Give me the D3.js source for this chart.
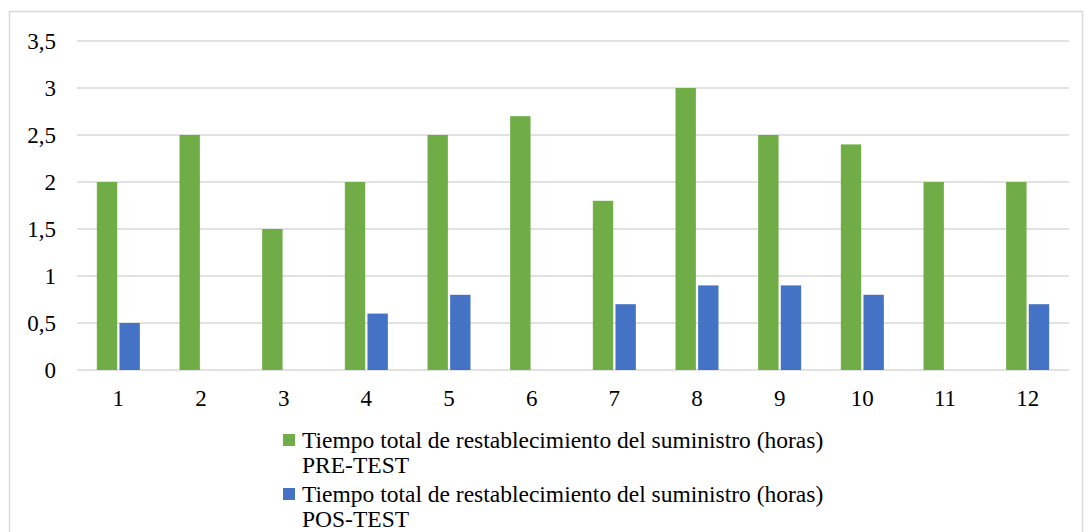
<!DOCTYPE html>
<html>
<head>
<meta charset="utf-8">
<script src="https://cdn.jsdelivr.net/npm/d3@7"></script>
<style>
  body { margin: 0; background: #fff; }
  svg { display: block; font-family: "Times New Roman", "Liberation Serif", serif; }
</style>
</head>
<body>
<svg id="chart" width="1090" height="532"></svg>
<script>
const categories = ['1', '2', '3', '4', '5', '6', '7', '8', '9', '10', '11', '12'];
const preTest = [2, 2.5, 1.5, 2, 2.5, 2.7, 1.8, 3, 2.5, 2.4, 2, 2];
const posTest = [0.5, 0, 0, 0.6, 0.8, 0, 0.7, 0.9, 0.9, 0.8, 0, 0.7];
const yTicks = [0, 0.5, 1, 1.5, 2, 2.5, 3, 3.5];
const seriesNames = [
  ['Tiempo total de restablecimiento del suministro (horas)', 'PRE-TEST'],
  ['Tiempo total de restablecimiento del suministro (horas)', 'POS-TEST'],
];
const seriesColors = ['#70ad47', '#4472c4'];

function drawChart() {
  const svg = d3.select('#chart');
  const plotLeft = 77;
  const plotRight = 1069;
  const plotTop = 41;
  const plotBottom = 370;

  // outer frame
  svg.append('rect')
    .attr('x', 9.5).attr('y', 11.5)
    .attr('width', 1073).attr('height', 540)
    .attr('fill', 'none')
    .attr('stroke', '#d9d9d9')
    .attr('stroke-width', 1.5);

  const y = d3.scaleLinear().domain([0, 3.5]).range([plotBottom, plotTop]);

  const x0 = d3.scaleBand()
    .domain(categories)
    .range([plotLeft, plotRight])
    .paddingInner(0.48)
    .paddingOuter(0.24);

  const x1 = d3.scaleBand()
    .domain([0, 1])
    .range([0, x0.bandwidth()])
    .paddingInner(0.1);

  // gridlines
  svg.append('g')
    .selectAll('line')
    .data(yTicks)
    .join('line')
    .attr('x1', plotLeft).attr('x2', plotRight)
    .attr('y1', d => y(d)).attr('y2', d => y(d))
    .attr('stroke', '#d9d9d9')
    .attr('stroke-width', 1.5);

  // y tick labels
  svg.append('g')
    .selectAll('text')
    .data(yTicks)
    .join('text')
    .attr('x', 56)
    .attr('y', d => y(d))
    .attr('dy', '0.35em')
    .attr('text-anchor', 'end')
    .attr('font-size', 23)
    .attr('fill', '#000')
    .text(d => String(d).replace('.', ','));

  // bars
  const groups = svg.append('g')
    .selectAll('g')
    .data(categories)
    .join('g')
    .attr('transform', d => `translate(${x0(d)},0)`);

  groups.selectAll('rect')
    .data((d, i) => [preTest[i], posTest[i]])
    .join('rect')
    .attr('x', (d, j) => x1(j))
    .attr('width', x1.bandwidth())
    .attr('y', d => y(d))
    .attr('height', d => y(0) - y(d))
    .attr('fill', (d, j) => seriesColors[j]);

  // x labels
  svg.append('g')
    .selectAll('text')
    .data(categories)
    .join('text')
    .attr('x', d => x0(d) + x0.bandwidth() / 2)
    .attr('y', 406)
    .attr('text-anchor', 'middle')
    .attr('font-size', 23)
    .attr('fill', '#000')
    .text(d => d);

  // legend
  const legend = svg.append('g');
  seriesNames.forEach((lines, i) => {
    const top = 434 + i * 54;
    legend.append('rect')
      .attr('x', 283).attr('y', top)
      .attr('width', 12).attr('height', 12)
      .attr('fill', seriesColors[i]);
    lines.forEach((t, k) => {
      legend.append('text')
        .attr('x', 302)
        .attr('y', top + 14 + k * 25)
        .attr('font-size', 23.5)
        .attr('fill', '#000')
        .text(t);
    });
  });
}

window.addEventListener('load', drawChart);
</script>
</body>
</html>
